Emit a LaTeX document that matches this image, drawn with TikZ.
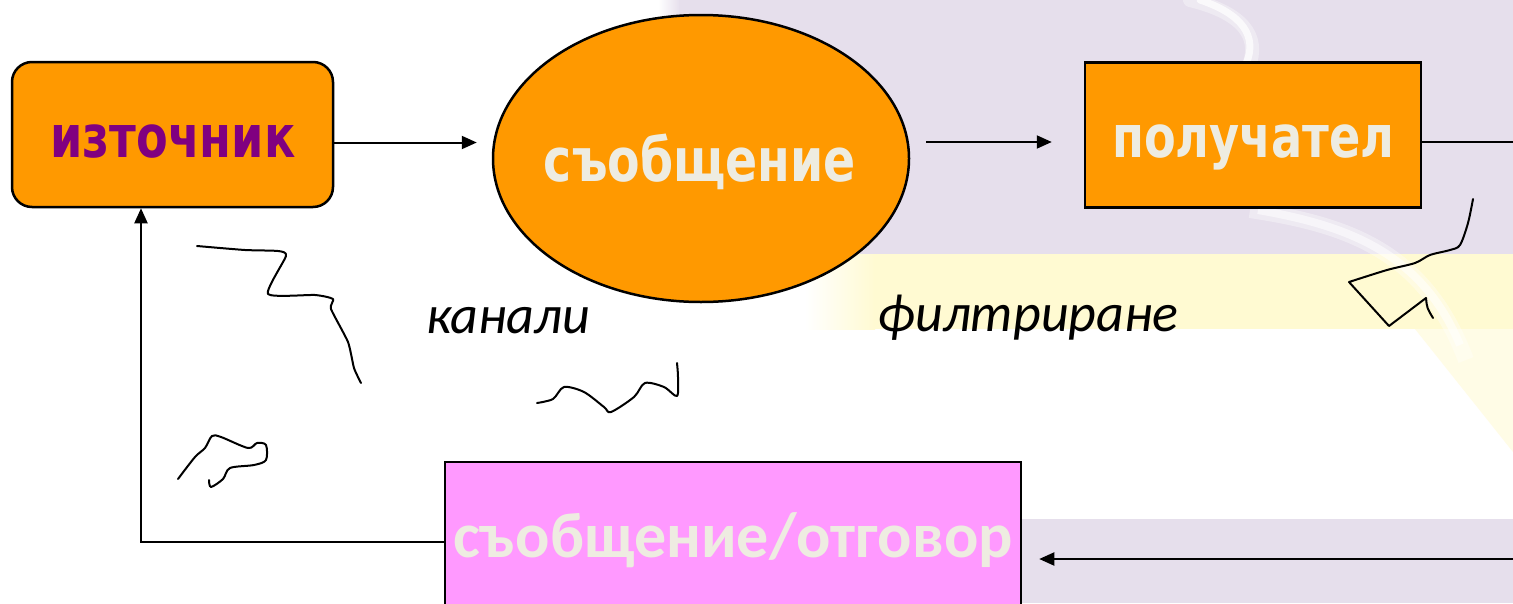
\documentclass[tikz,border=0pt]{standalone}
\usepackage{fontspec}
\usetikzlibrary{arrows.meta,shapes.geometric}
\newfontfamily\nodefont{DejaVu Sans}[FakeStretch=0.79]
\newfontfamily\calfont{Carlito}

\definecolor{boxorange}{HTML}{FF9900}
\definecolor{srcpurple}{HTML}{800080}
\definecolor{replypink}{HTML}{FF99FF}
\definecolor{creamtext}{HTML}{EEECE1}
\definecolor{lavender}{HTML}{E6DFEC}
\definecolor{paleyellow}{HTML}{FFFAD2}

\tikzset{
  box/.style={draw=black, line width=2.5pt, fill=boxorange, inner sep=0pt},
  conn/.style={draw=black, line width=2pt},
  arr/.style={conn, -{Triangle[length=15pt,width=13pt]}},
  scribble/.style={draw=black, line width=2pt, line cap=round, line join=round},
  bigword/.style={anchor=base, inner sep=0pt, font=\nodefont\bfseries\fontsize{58.5}{60}\selectfont, text=creamtext},
  chanlabel/.style={anchor=base, inner sep=0pt, font=\calfont\itshape\fontsize{54}{56}\selectfont, text=black}
}

\begin{document}
\begin{tikzpicture}[x=1pt,y=-1pt]
\useasboundingbox (0,0) rectangle (1513,603);
\clip (0,0) rectangle (1513,603);

% slide background
\fill[white] (0,0) rectangle (1513,603);
\shade[left color=white, right color=lavender] (658,0) rectangle (680,254);
\fill[lavender] (679,0) rectangle (1513,254);
\shade[left color=white, right color=paleyellow] (805,254) rectangle (875,329);
\fill[paleyellow] (874,254) rectangle (1513,329);
\fill[paleyellow!55] (1415,329) -- (1513,329) -- (1513,452) -- cycle;
\fill[lavender] (1021,519) rectangle (1513,603);
% pale swoosh
\draw[white, line width=14pt, opacity=0.35, line cap=round] (1190,0) .. controls (1240,12) and (1262,35) .. (1248,68);
\draw[white, line width=7pt, opacity=0.75, line cap=round] (1200,0) .. controls (1242,14) and (1258,36) .. (1246,64);
\draw[white, line width=16pt, opacity=0.35] (1250,210) .. controls (1350,225) and (1425,252) .. (1466,360);
\draw[white, line width=8pt, opacity=0.55] (1258,210) .. controls (1350,226) and (1422,254) .. (1460,345);

% shapes
\node[box, rounded corners=20pt, minimum width=321pt, minimum height=145pt] (src) at (172.5,134.5) {};
\node[box, ellipse, minimum width=416pt, minimum height=287pt] (msg) at (701,158.5) {};
\node[box, minimum width=336pt, minimum height=145pt] (rcv) at (1253,135) {};
\node[box, fill=replypink, minimum width=576pt, minimum height=190pt] (reply) at (733,557) {};

% texts
\node[bigword, text=srcpurple] (srctext) at (173,157) {източник};
\node[bigword, font=\nodefont\bfseries\fontsize{60}{62}\selectfont] (msgtext) at (700,181) {съобщение};
\node[bigword] (rcvtext) at (1253.5,157) {получател};
\node[anchor=base, inner sep=0pt, font=\calfont\bfseries\fontsize{64}{66}\selectfont, text=creamtext] (replytext) at (733,557) {съобщение/отговор};
\node[chanlabel] (chan) at (508,333) {канали};
\node[chanlabel] (filt) at (1028,331) {филтриране};

% connectors
\coordinate (edgetop) at (1513,142);
\coordinate (edgebot) at (1513,559);
\draw[arr, shorten >=15pt] ([yshift=-8pt]src.east) -- ([yshift=-8pt]src.east -| msg.west);
\draw[arr, shorten <=16pt, shorten >=32pt] (msg.east |- edgetop) -- (rcv.west |- edgetop);
\draw[conn] (rcv.east |- edgetop) -- (edgetop);
\draw[arr, shorten >=17pt] (edgebot) -- (reply.east |- edgebot);
\draw[arr] ([yshift=15pt]reply.west) -| ([xshift=-31.5pt]src.south);

% freehand scribbles
\draw[scribble] plot[smooth, tension=0.35] coordinates {(197,246) (245,250) (278,251) (286,256) (268,294) (315,295) (333,299) (331,309) (348,342) (354,368) (361,383)};
\draw[scribble] plot[smooth, tension=0.5] coordinates {(537,403) (553,399) (564,387) (584,392) (604,407) (611,412) (634,397) (645,383) (664,387) (677,396) (678,377) (677,363)};
\draw[scribble] plot[smooth, tension=0.5] coordinates {(178,479) (195,457) (205,448) (212,436) (221,437) (248,448) (257,443) (266,445) (266,460) (254,465) (230,468) (223,479) (211,487) (209,480)};
\draw[scribble] plot[smooth, tension=0.5] coordinates {(1473,199) (1468,223) (1460,245) (1450,250) (1430,255) (1415,263) (1387,270) (1349,282)} -- (1389,326) -- (1426,298) .. controls (1427,308) .. (1433,318);
\end{tikzpicture}
\end{document}
